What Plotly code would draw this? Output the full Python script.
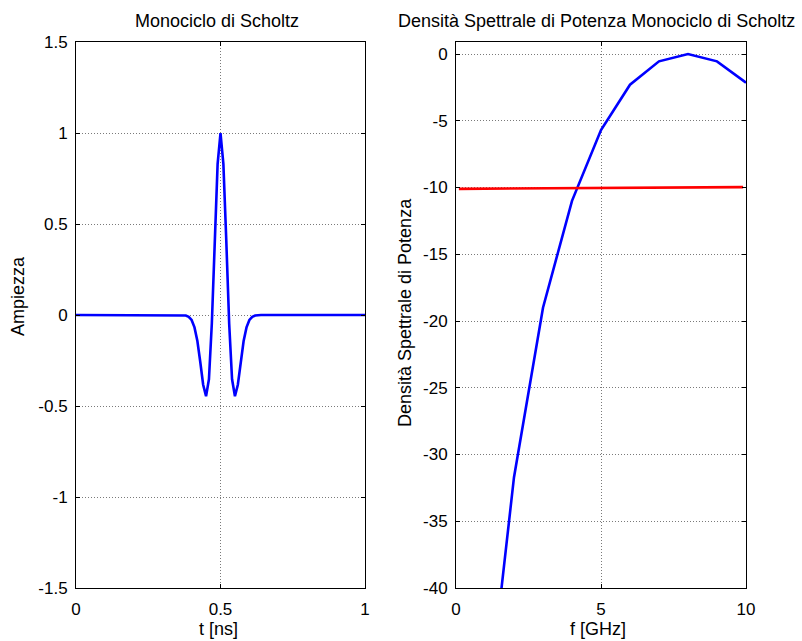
import plotly.graph_objects as go

# Scholtz monocycle samples (time in ns, amplitude normalised)
t_ns = [0.0, 0.36, 0.37, 0.38, 0.39, 0.40, 0.41, 0.42, 0.43, 0.44, 0.45, 0.46,
        0.47, 0.48, 0.49, 0.50, 0.51, 0.52, 0.53, 0.54, 0.55, 0.56, 0.57,
        0.58, 0.59, 0.60, 0.61, 0.62, 0.63, 0.64, 1.0]
amp = [0.0, 0.0, -0.001, -0.003, -0.010, -0.027, -0.068, -0.143, -0.258, -0.383,
       -0.446, -0.353, -0.047, 0.409, 0.829, 1.0, 0.829, 0.409, -0.047, -0.353,
       -0.446, -0.383, -0.258, -0.143, -0.068, -0.027, -0.010, -0.003, -0.001,
       0.0, 0.0]

# Power spectral density (GHz, dB) and the reference level line
f_ghz = [1, 2, 3, 4, 5, 6, 7, 8, 9, 10]
psd_db = [-51.0, -31.7, -19.0, -11.0, -5.7, -2.3, -0.55, 0.0, -0.55, -2.15]
mask_f = [0.1, 9.9]
mask_db = [-10.1, -9.97]

# Tick labels
t_ticks = [0, 0.5, 1]
t_tick_text = ["0", "0.5", "1"]
amp_ticks = [-1.5, -1, -0.5, 0, 0.5, 1, 1.5]
amp_tick_text = ["-1.5", "-1", "-0.5", "0", "0.5", "1", "1.5"]
f_ticks = [0, 5, 10]
f_tick_text = ["0", "5", "10"]
db_ticks = [-40, -35, -30, -25, -20, -15, -10, -5, 0]
db_tick_text = ["-40", "-35", "-30", "-25", "-20", "-15", "-10", "-5", "0"]

W, H = 802, 641
FONT = "Liberation Sans, Arial, sans-serif"
TICK_FS = 17
TEXT_FS = 18

fig = go.Figure()
fig.add_trace(go.Scatter(x=t_ns, y=amp, mode="lines",
                         line=dict(color="#0000ff", width=2.6),
                         xaxis="x", yaxis="y", showlegend=False))
fig.add_trace(go.Scatter(x=f_ghz, y=psd_db, mode="lines",
                         line=dict(color="#0000ff", width=2.6),
                         xaxis="x2", yaxis="y2", showlegend=False))
fig.add_trace(go.Scatter(x=mask_f, y=mask_db, mode="lines",
                         line=dict(color="#ff0000", width=2.6),
                         xaxis="x2", yaxis="y2", showlegend=False))

y_dom = [(H - 588) / H, (H - 42) / H]
common = dict(showline=True, linecolor="black", linewidth=1, mirror="allticks",
              ticks="inside", ticklen=4, tickcolor="black", tickwidth=1,
              showgrid=True, gridcolor="#7a7a7a", griddash="1px,2px", gridwidth=1,
              zeroline=False, automargin=False,
              tickfont=dict(family=FONT, size=TICK_FS, color="black"))
xcommon = dict(common, ticklabelstandoff=6)
ycommon = dict(common, ticklabelstandoff=4)

fig.update_layout(
    width=W, height=H,
    margin=dict(l=0, r=0, t=0, b=0),
    paper_bgcolor="white", plot_bgcolor="white",
    xaxis=dict(domain=[76 / W, 365 / W], range=[0, 1], tickmode="array",
               tickvals=t_ticks, ticktext=t_tick_text, anchor="y", **xcommon),
    yaxis=dict(domain=y_dom, range=[-1.5, 1.5], tickmode="array",
               tickvals=amp_ticks, ticktext=amp_tick_text, anchor="x", **ycommon),
    xaxis2=dict(domain=[456 / W, 746 / W], range=[0, 10], tickmode="array",
                tickvals=f_ticks, ticktext=f_tick_text, anchor="y2", **xcommon),
    yaxis2=dict(domain=y_dom, range=[-40, 0.9], tickmode="array",
                tickvals=db_ticks, ticktext=db_tick_text, anchor="x2", **ycommon),
)

def label(text, x, y, angle=0):
    fig.add_annotation(text=text, x=x / W, y=1 - y / H, xref="paper", yref="paper",
                       showarrow=False, textangle=angle, xanchor="center",
                       yanchor="middle",
                       font=dict(family=FONT, size=TEXT_FS, color="black"))

label("Monociclo di Scholtz", 217, 21)
label("Densità Spettrale di Potenza Monociclo di Scholtz", 596, 21)
label("t [ns]", 218, 629)
label("f [GHz]", 598, 629)
label("Ampiezza", 18, 296, -90)
label("Densità Spettrale di Potenza", 405, 313, -90)

fig.write_html("out.html")
